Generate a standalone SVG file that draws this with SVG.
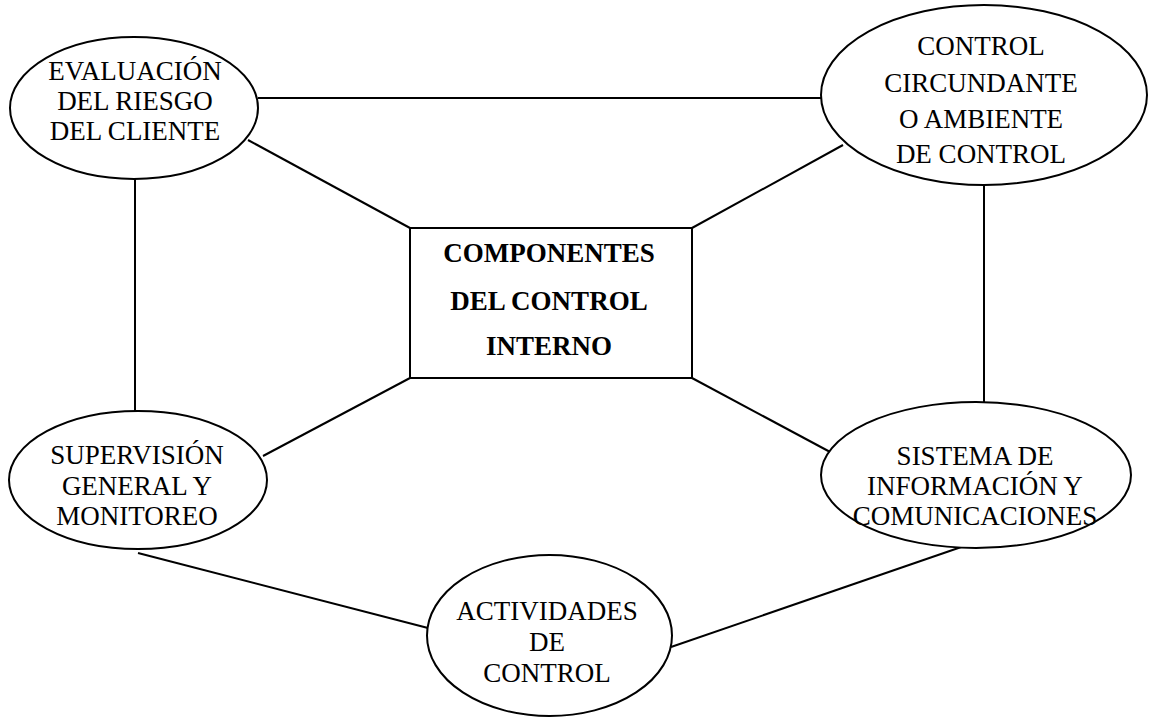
<svg xmlns="http://www.w3.org/2000/svg" width="1149" height="718" viewBox="0 0 1149 718">
  <style>
    .shape { fill: #fff; stroke: #000; stroke-width: 2; }
    .link { stroke: #000; stroke-width: 2; fill: none; }
    .lbl { font-family: "Liberation Serif", "Times New Roman", serif; font-size: 27px; fill: #000; text-anchor: middle; }
    .bold { font-weight: bold; }
  </style>
  <rect width="1149" height="718" fill="#fff"/>

  <!-- connectors -->
  <g id="connectors">
    <line class="link" x1="258" y1="98" x2="821" y2="98"/>
    <line class="link" x1="248" y1="140" x2="410" y2="228"/>
    <line class="link" x1="843" y1="145" x2="692" y2="228"/>
    <line class="link" x1="135" y1="179" x2="135" y2="411"/>
    <line class="link" x1="984" y1="185" x2="984" y2="402"/>
    <line class="link" x1="263" y1="456" x2="410" y2="378"/>
    <line class="link" x1="692" y1="378" x2="832" y2="453"/>
    <line class="link" x1="138" y1="553" x2="428" y2="628"/>
    <line class="link" x1="671" y1="647" x2="970" y2="544"/>
  </g>

  <!-- central component box -->
  <g id="node-componentes">
    <rect class="shape" x="410" y="228" width="282" height="150"/>
    <text class="lbl bold" x="549" y="262">COMPONENTES</text>
    <text class="lbl bold" x="549" y="310">DEL CONTROL</text>
    <text class="lbl bold" x="549" y="355">INTERNO</text>
  </g>

  <g id="node-evaluacion">
    <ellipse class="shape" cx="134" cy="108" rx="124" ry="71"/>
    <text class="lbl" x="135" y="80">EVALUACIÓN</text>
    <text class="lbl" x="135" y="110">DEL RIESGO</text>
    <text class="lbl" x="135" y="140">DEL CLIENTE</text>
  </g>

  <g id="node-ambiente">
    <ellipse class="shape" cx="984" cy="95" rx="163" ry="90"/>
    <text class="lbl" x="981" y="55">CONTROL</text>
    <text class="lbl" x="981" y="92">CIRCUNDANTE</text>
    <text class="lbl" x="981" y="128">O AMBIENTE</text>
    <text class="lbl" x="981" y="163">DE CONTROL</text>
  </g>

  <g id="node-supervision">
    <ellipse class="shape" cx="138" cy="480" rx="129" ry="69"/>
    <text class="lbl" x="137" y="464">SUPERVISIÓN</text>
    <text class="lbl" x="137" y="495">GENERAL Y</text>
    <text class="lbl" x="137" y="525">MONITOREO</text>
  </g>

  <g id="node-sistema">
    <ellipse class="shape" cx="976" cy="475" rx="155" ry="73"/>
    <text class="lbl" x="975" y="465">SISTEMA DE</text>
    <text class="lbl" x="975" y="495">INFORMACIÓN Y</text>
    <text class="lbl" x="975" y="525">COMUNICACIONES</text>
  </g>

  <g id="node-actividades">
    <ellipse class="shape" cx="549.5" cy="635.5" rx="122.5" ry="80.5"/>
    <text class="lbl" x="547" y="620">ACTIVIDADES</text>
    <text class="lbl" x="547" y="651">DE</text>
    <text class="lbl" x="547" y="682">CONTROL</text>
  </g>
</svg>
